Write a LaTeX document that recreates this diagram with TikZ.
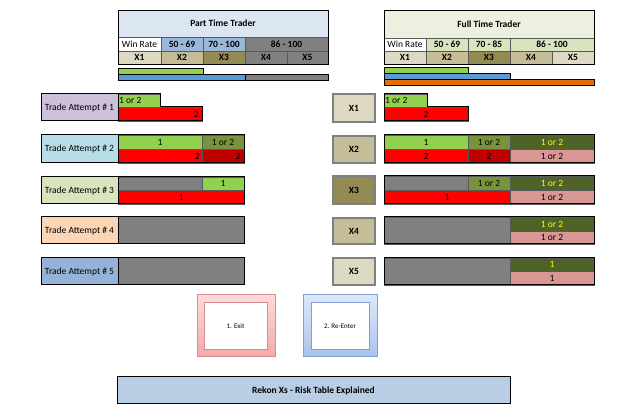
\documentclass[tikz,border=0pt]{standalone}
\usepackage{fontspec}
\setmainfont{Carlito}
\definecolor{ptHead}{HTML}{DCE6F2}
\definecolor{winBlue}{HTML}{9BB7D9}
\definecolor{ftHead}{HTML}{EBF1DE}
\definecolor{ftWin}{HTML}{D7E4BD}
\definecolor{xone}{HTML}{DDD9C3}
\definecolor{xtwo}{HTML}{C4BD97}
\definecolor{xthree}{HTML}{948A54}
\definecolor{grayc}{HTML}{808080}
\definecolor{greenc}{HTML}{92D050}
\definecolor{olivec}{HTML}{77933C}
\definecolor{darkolive}{HTML}{4F6228}
\definecolor{redc}{HTML}{FF0000}
\definecolor{darkredc}{HTML}{C00000}
\definecolor{pinkc}{HTML}{DA9694}
\definecolor{bluebar}{HTML}{5B9BD5}
\definecolor{orangec}{HTML}{E46C0A}
\definecolor{yellowt}{HTML}{FFFF00}
\definecolor{banner}{HTML}{B9CDE5}
\definecolor{taone}{HTML}{CCC0DA}
\definecolor{tatwo}{HTML}{B7DEE8}
\definecolor{tathree}{HTML}{D8E4BC}
\definecolor{tafour}{HTML}{FCD5B4}
\definecolor{tafive}{HTML}{95B3D7}
\definecolor{exitb}{HTML}{D98C8C}
\definecolor{exittop}{HTML}{FCDADA}
\definecolor{exitbot}{HTML}{F2A9A9}
\definecolor{reb}{HTML}{7F9FD6}
\definecolor{retop}{HTML}{DDE8F8}
\definecolor{rebot}{HTML}{A9C3EC}
\tikzset{
  cell/.style={draw=black!65, line width=0.4pt, inner sep=0pt, outer sep=0pt,
    font=\fontsize{9.5}{10}\selectfont, text=black},
  bold/.style={font=\fontsize{9.5}{10}\selectfont\bfseries},
  frame/.style={draw=black, line width=1pt},
  attempt/.style={cell, draw=black, line width=1pt, font=\fontsize{9.5}{10}\selectfont},
  xbox/.style={cell, draw=black!50, line width=1.2pt, font=\fontsize{9.5}{10}\selectfont\bfseries},
  lbl/.style={inner sep=1pt, font=\fontsize{9.5}{10}\selectfont, text=black},
  ytext/.style={text=yellowt},
  small/.style={font=\fontsize{7}{8}\selectfont},
}
\newcommand\cellbox[7][]{%
  \pgfmathsetmacro\rkw{#5-#3}\pgfmathsetmacro\rkh{#6-#4}%
  \node[cell,#1,minimum width=\rkw pt,minimum height=\rkh pt,anchor=north west] (#2) at (#3,#4) {#7};}
\begin{document}
\begin{tikzpicture}[x=1pt,y=-1pt]
\useasboundingbox (0,0) rectangle (625,419);
\fill[white] (0,0) rectangle (625,419);

% ---------- Part Time Trader ----------
\cellbox[fill=ptHead,bold]{pth}{118}{10}{328}{37}{Part Time Trader}
\cellbox[fill=white]{pwr}{118}{37}{161}{51}{Win Rate}
\cellbox[fill=winBlue,bold]{pwa}{161}{37}{203}{51}{50 - 69}
\cellbox[fill=winBlue,bold]{pwb}{203}{37}{245}{51}{70 - 100}
\cellbox[fill=grayc,bold]{pwc}{245}{37}{328}{51}{86 - 100}
\cellbox[fill=xone,bold]{px1}{118}{51}{161}{64}{X1}
\cellbox[fill=xtwo,bold]{px2}{161}{51}{203}{64}{X2}
\cellbox[fill=xthree,bold]{px3}{203}{51}{245}{64}{X3}
\cellbox[fill=grayc,bold]{px4}{245}{51}{287}{64}{X4}
\cellbox[fill=grayc,bold]{px5}{287}{51}{328}{64}{X5}
\draw[frame,line width=0.6pt] (pth.north west) rectangle (px5.south east);
\cellbox[fill=greenc,draw=black,line width=0.8pt]{pbg}{118}{68}{203}{74}{}
\cellbox[fill=bluebar,draw=black,line width=0.8pt]{pbb}{118}{74}{245}{80}{}
\cellbox[fill=grayc,draw=black,line width=0.8pt]{pbk}{245}{74}{328}{80}{}

% ---------- Full Time Trader ----------
\cellbox[fill=ftHead,bold]{fth}{384}{10}{594}{38}{Full Time Trader}
\cellbox[fill=white]{fwr}{384}{38}{426}{51}{Win Rate}
\cellbox[fill=ftWin,bold]{fwa}{426}{38}{468}{51}{50 - 69}
\cellbox[fill=ftWin,bold]{fwb}{468}{38}{510}{51}{70 - 85}
\cellbox[fill=ftWin,bold]{fwc}{510}{38}{594}{51}{86 - 100}
\cellbox[fill=xone,bold]{fx1}{384}{51}{426}{64}{X1}
\cellbox[fill=xtwo,bold]{fx2}{426}{51}{468}{64}{X2}
\cellbox[fill=xthree,bold]{fx3}{468}{51}{510}{64}{X3}
\cellbox[fill=xtwo,bold]{fx4}{510}{51}{552}{64}{X4}
\cellbox[fill=xone,bold]{fx5}{552}{51}{594}{64}{X5}
\draw[frame,line width=0.6pt] (fth.north west) rectangle (fx5.south east);
\cellbox[fill=greenc,draw=black,line width=0.8pt]{fbg}{384}{67}{468}{73}{}
\cellbox[fill=bluebar,draw=black,line width=0.8pt]{fbb}{384}{73}{510}{79}{}
\cellbox[fill=orangec,draw=black,line width=0.8pt]{fbo}{384}{79}{594}{85}{}

% ---------- Trade attempts (left) ----------
\cellbox[attempt,fill=taone]{ta1}{41}{94}{118}{121}{Trade Attempt \# 1}
\cellbox[fill=greenc]{l1g}{118}{94}{160}{107}{}
\node[lbl,anchor=west] (l1gt) at (l1g.west) {1 or 2};
\cellbox[fill=redc]{l1r}{118}{107}{202}{121}{}
\node[lbl,anchor=east] (l1rt) at ([xshift=-2pt]l1r.east) {2};
\draw[frame] (l1g.north west) -| (l1g.south east) -| (l1r.south east) -| (l1g.north west);

\cellbox[attempt,fill=tatwo]{ta2}{41}{135}{118}{163}{Trade Attempt \# 2}
\cellbox[fill=greenc]{l2a}{118}{135}{202}{149}{1}
\cellbox[fill=olivec]{l2b}{202}{135}{244}{149}{1 or 2}
\cellbox[fill=redc]{l2c}{118}{149}{202}{163}{}
\node[lbl,anchor=east] (l2ct) at ([xshift=-1pt]l2c.east) {2};
\cellbox[fill=darkredc]{l2d}{202}{149}{244}{163}{}
\node[lbl,anchor=east] (l2dt) at ([xshift=-2pt]l2d.east) {2};
\draw[frame] (l2a.north west) rectangle (l2d.south east);

\cellbox[attempt,fill=tathree]{ta3}{41}{177}{118}{204}{Trade Attempt \# 3}
\cellbox[fill=grayc]{l3a}{118}{177}{202}{190}{}
\cellbox[fill=greenc]{l3b}{202}{177}{244}{190}{1}
\cellbox[fill=redc]{l3c}{118}{190}{244}{204}{1}
\draw[frame] (l3a.north west) rectangle (l3c.south east);

\cellbox[attempt,fill=tafour]{ta4}{41}{217}{118}{244}{Trade Attempt \# 4}
\cellbox[fill=grayc,draw=black,line width=1pt]{l4a}{118}{217}{244}{244}{}

\cellbox[attempt,fill=tafive]{ta5}{41}{258}{118}{285}{Trade Attempt \# 5}
\cellbox[fill=grayc,draw=black,line width=1pt]{l5a}{118}{258}{244}{285}{}

% ---------- X rows (right) ----------
\cellbox[xbox,fill=xone]{xr1}{333}{94}{375}{122}{X1}
\cellbox[fill=greenc]{r1g}{384}{94}{427}{107}{}
\node[lbl,anchor=west] (r1gt) at (r1g.west) {1 or 2};
\cellbox[fill=redc]{r1r}{384}{107}{468}{121}{2}
\draw[frame] (r1g.north west) -| (r1g.south east) -| (r1r.south east) -| (r1g.north west);

\cellbox[xbox,fill=xtwo]{xr2}{333}{136}{375}{163}{X2}
\cellbox[fill=greenc]{r2a}{384}{135}{468}{149}{1}
\cellbox[fill=olivec]{r2b}{468}{135}{510}{149}{1 or 2}
\cellbox[fill=darkolive,ytext]{r2c}{510}{135}{594}{149}{1 or 2}
\cellbox[fill=redc]{r2d}{384}{149}{468}{163}{2}
\cellbox[fill=darkredc]{r2e}{468}{149}{510}{163}{2}
\cellbox[fill=pinkc]{r2f}{510}{149}{594}{163}{1 or 2}
\draw[frame] (r2a.north west) rectangle (r2f.south east);

\cellbox[xbox,fill=xthree]{xr3}{333}{176}{375}{204}{X3}
\cellbox[fill=grayc]{r3a}{384}{176}{468}{190}{}
\cellbox[fill=olivec]{r3b}{468}{176}{510}{190}{1 or 2}
\cellbox[fill=darkolive,ytext]{r3c}{510}{176}{594}{190}{1 or 2}
\cellbox[fill=redc]{r3d}{384}{190}{510}{204}{1}
\cellbox[fill=pinkc]{r3e}{510}{190}{594}{204}{1 or 2}
\draw[frame] (r3a.north west) rectangle (r3e.south east);

\cellbox[xbox,fill=xtwo]{xr4}{333}{218}{375}{244}{X4}
\cellbox[fill=grayc]{r4a}{384}{217}{510}{244}{}
\cellbox[fill=darkolive,ytext]{r4b}{510}{217}{594}{231}{1 or 2}
\cellbox[fill=pinkc]{r4c}{510}{231}{594}{244}{1 or 2}
\draw[frame] (r4a.north west) rectangle (r4c.south east);

\cellbox[xbox,fill=xone]{xr5}{333}{258}{375}{285}{X5}
\cellbox[fill=grayc]{r5a}{384}{258}{510}{285}{}
\cellbox[fill=darkolive,ytext]{r5b}{510}{258}{594}{271}{1}
\cellbox[fill=pinkc]{r5c}{510}{271}{594}{285}{1}
\draw[frame] (r5a.north west) rectangle (r5c.south east);

% ---------- Exit / Re-Enter ----------
\cellbox[draw=exitb,line width=1pt,top color=exittop,bottom color=exitbot]{exo}{197}{295}{275}{357}{}
\cellbox[fill=white,draw=exitb,line width=1pt,small]{exi}{204}{303}{267}{350}{1. Exit}
\cellbox[draw=reb,line width=1pt,top color=retop,bottom color=rebot]{reo}{303}{295}{377}{357}{}
\cellbox[fill=white,draw=reb,line width=1pt,small]{rei}{311}{303}{369}{350}{2. Re-Enter}

% ---------- Banner ----------
\cellbox[fill=banner,draw=black,line width=1pt,bold]{ban}{117}{377}{510}{404}{Rekon Xs - Risk Table Explained}
\end{tikzpicture}
\end{document}
